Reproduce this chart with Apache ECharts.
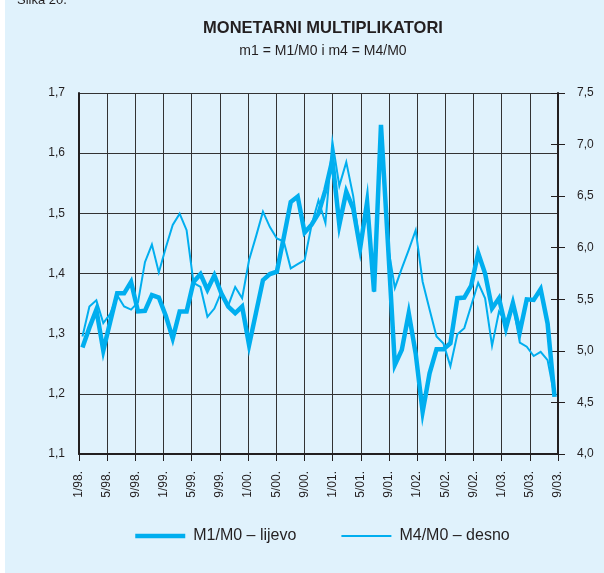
<!DOCTYPE html>
<html>
<head>
<meta charset="utf-8">
<script src="https://cdn.jsdelivr.net/npm/echarts@6/dist/echarts.min.js"></script>
<style>
  html, body { margin: 0; padding: 0; }
  #chart {
    width: 604px;
    height: 573px;
    background: linear-gradient(to right, #ffffff 5px, #e0f2fc 5px);
  }
</style>
</head>
<body>
<div id="chart"></div>
<script>
// months 1/98 .. 9/03
var months = [
  '1/98', '2/98', '3/98', '4/98', '5/98', '6/98', '7/98', '8/98', '9/98', '10/98', '11/98', '12/98',
  '1/99', '2/99', '3/99', '4/99', '5/99', '6/99', '7/99', '8/99', '9/99', '10/99', '11/99', '12/99',
  '1/00', '2/00', '3/00', '4/00', '5/00', '6/00', '7/00', '8/00', '9/00', '10/00', '11/00', '12/00',
  '1/01', '2/01', '3/01', '4/01', '5/01', '6/01', '7/01', '8/01', '9/01', '10/01', '11/01', '12/01',
  '1/02', '2/02', '3/02', '4/02', '5/02', '6/02', '7/02', '8/02', '9/02', '10/02', '11/02', '12/02',
  '1/03', '2/03', '3/03', '4/03', '5/03', '6/03', '7/03', '8/03', '9/03'
]

var tickLabels = [
  '1/98.', '5/98.', '9/98.', '1/99.', '5/99.', '9/99.', '1/00.', '5/00.', '9/00.',
  '1/01.', '5/01.', '9/01.', '1/02.', '5/02.', '9/02.', '1/03.', '5/03.', '9/03.'
]

// m1 = M1/M0 (left axis)
var m1 = [
  1.277, 1.31, 1.340, 1.272, 1.32, 1.367, 1.367, 1.386, 1.337, 1.338, 1.364, 1.360,
  1.33, 1.292, 1.337, 1.337, 1.386, 1.399, 1.373, 1.397, 1.367, 1.345, 1.334, 1.345,
  1.281, 1.335, 1.389, 1.399, 1.403, 1.46, 1.519, 1.528, 1.468, 1.481, 1.500, 1.539,
  1.589, 1.481, 1.536, 1.508, 1.442, 1.519, 1.370, 1.647, 1.45, 1.248, 1.273, 1.334,
  1.267, 1.170, 1.234, 1.274, 1.274, 1.284, 1.359, 1.360, 1.38, 1.434, 1.400, 1.342,
  1.359, 1.309, 1.351, 1.303, 1.357, 1.356, 1.374, 1.317, 1.195
]

// m4 = M4/M0 (right axis)
var m4 = [
  5.14, 5.43, 5.49, 5.27, 5.36, 5.54, 5.43, 5.40, 5.47, 5.86, 6.03, 5.76,
  6.00, 6.22, 6.33, 6.17, 5.66, 5.62, 5.33, 5.41, 5.57, 5.44, 5.62, 5.51,
  5.88, 6.11, 6.35, 6.20, 6.09, 6.06, 5.80, 5.84, 5.88, 6.22, 6.46, 6.24,
  7.03, 6.60, 6.83, 6.50, 6.00, 6.46, 5.57, 7.15, 6.02, 5.61, 5.80, 5.98,
  6.17, 5.67, 5.40, 5.14, 5.07, 4.85, 5.16, 5.22, 5.44, 5.66, 5.51, 5.05,
  5.38, 5.28, 5.45, 5.08, 5.04, 4.95, 4.99, 4.91, 4.56
]

var lineColor = '#00aeef'
var ink = '#231f20'
var font = 'Liberation Sans, Arial, sans-serif'

function comma(v) {
  return v.toFixed(1).replace('.', ',')
}

var chart = echarts.init(document.getElementById('chart'))

chart.setOption({
  backgroundColor: 'transparent',
  animation: false,
  textStyle: { fontFamily: font, color: ink },
  title: [{
    text: 'MONETARNI MULTIPLIKATORI',
    left: 318,
    top: 15,
    textAlign: 'center',
    textStyle: { fontSize: 16.5, fontWeight: 'bold', color: ink, fontFamily: font }
  }, {
    text: 'm1 = M1/M0 i m4 = M4/M0',
    left: 318,
    top: 39,
    textAlign: 'center',
    textStyle: { fontSize: 14, fontWeight: 'normal', color: ink, fontFamily: font }
  }, {
    text: 'Slika 20.',
    left: 12,
    top: -11,
    textStyle: { fontSize: 13, fontWeight: 'normal', color: ink, fontFamily: font }
  }],
  grid: {
    left: 79,
    right: 46,
    top: 93,
    bottom: 119
  },
  legend: {
    bottom: 24,
    left: 128,
    itemWidth: 50,
    itemHeight: 14,
    itemGap: 44,
    itemStyle: { opacity: 0 },
    textStyle: { fontSize: 16, color: ink, fontFamily: font, padding: [0, 0, 0, 3] },
    data: [
      { name: 'M1/M0 – lijevo', lineStyle: { width: 4.5 } },
      { name: 'M4/M0 – desno', lineStyle: { width: 2 } }
    ]
  },
  xAxis: [{
    // data axis: one band per month
    type: 'category',
    data: months,
    boundaryGap: true,
    show: false
  }, {
    // tick / grid axis: month index 0..68
    type: 'value',
    position: 'bottom',
    min: 0,
    max: 68,
    interval: 4,
    axisLine: { show: true, lineStyle: { color: ink, width: 2 } },
    axisTick: { show: true, length: 7, lineStyle: { color: ink, width: 1 } },
    splitLine: { show: true, lineStyle: { color: '#333', width: 1 } },
    axisLabel: {
      rotate: 90,
      margin: 17,
      fontSize: 12,
      color: ink,
      showMinLabel: true,
      showMaxLabel: true,
      formatter: function (v) { return tickLabels[v / 4] }
    }
  }],
  yAxis: [{
    type: 'value',
    position: 'left',
    min: 1.1,
    max: 1.7,
    interval: 0.1,
    axisLine: { show: true, lineStyle: { color: ink, width: 2 } },
    axisTick: { show: false },
    splitLine: { show: true, lineStyle: { color: '#333', width: 1 } },
    axisLabel: { margin: 14, fontSize: 12, color: ink, formatter: comma }
  }, {
    type: 'value',
    position: 'right',
    min: 4.0,
    max: 7.5,
    interval: 0.5,
    axisLine: { show: true, lineStyle: { color: ink, width: 2 } },
    axisTick: { show: true, inside: true, length: 7, lineStyle: { color: ink, width: 1 } },
    splitLine: { show: false },
    axisLabel: { margin: 19, fontSize: 12, color: ink, formatter: comma }
  }, {
    // outer half of the right axis ticks
    type: 'value',
    position: 'right',
    min: 4.0,
    max: 7.5,
    interval: 0.5,
    axisLine: { show: false },
    axisTick: { show: true, length: 7, lineStyle: { color: ink, width: 1 } },
    splitLine: { show: false },
    axisLabel: { show: false }
  }],
  series: [{
    name: 'M1/M0 – lijevo',
    type: 'line',
    xAxisIndex: 0,
    yAxisIndex: 0,
    data: m1,
    symbol: 'none',
    color: lineColor,
    lineStyle: { color: lineColor, width: 4.5, join: 'miter' }
  }, {
    name: 'M4/M0 – desno',
    type: 'line',
    xAxisIndex: 0,
    yAxisIndex: 1,
    data: m4,
    symbol: 'none',
    color: lineColor,
    lineStyle: { color: lineColor, width: 2, join: 'miter' }
  }]
})
</script>
</body>
</html>
